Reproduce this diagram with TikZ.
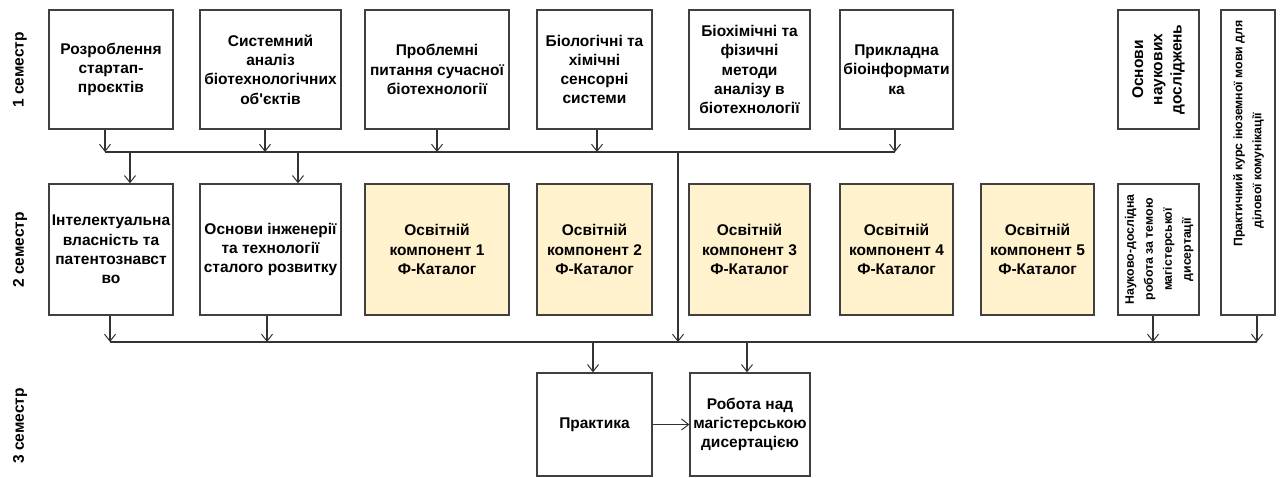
\documentclass[tikz,border=0pt]{standalone}
\usepackage{fontspec}
\setmainfont{Liberation Sans}
\usetikzlibrary{arrows.meta,calc}
\definecolor{bord}{HTML}{404040}
\definecolor{lin}{HTML}{333333}
\definecolor{yel}{HTML}{FFF2CC}
\newcommand{\mainf}{\fontsize{15.5}{19.3}\selectfont\bfseries}
\newcommand{\smallf}{\fontsize{12.3}{19}\selectfont\bfseries}
\newcommand{\rot}[1]{\rotatebox{90}{\begin{tabular}{@{}c@{}}#1\end{tabular}}}
\begin{document}
\begin{tikzpicture}[x=1pt,y=-1pt,
  box/.style={draw=bord,line width=1.3pt,fill=white,inner sep=0pt,align=center,font=\mainf},
  ybox/.style={box,fill=yel},
  lne/.style={draw=lin,line width=1.1pt},
  arr/.style={lne,-{Straight Barb[length=7pt,width=11pt,line width=1pt]}},
  sem/.style={inner sep=0pt,font=\mainf}]
\useasboundingbox (0,0) rectangle (1282,478);
% semester labels
\node[sem] (s1) at (20,70) {\rotatebox{90}{1 семестр}};
\node[sem] (s2) at (20,250) {\rotatebox{90}{2 семестр}};
\node[sem] (s3) at (20,426) {\rotatebox{90}{3 семестр}};
% row 1
\node[box,minimum width=124pt,minimum height=119pt] (a1) at (111,69.5) {Розроблення\\стартап-\\проєктів};
\node[box,minimum width=141pt,minimum height=119pt] (a2) at (270.5,69.5) {Системний\\аналіз\\біотехнологічних\\об\textquotesingle єктів};
\node[box,minimum width=144pt,minimum height=119pt] (a3) at (437,69.5) {Проблемні\\питання сучасної\\біотехнології};
\node[box,minimum width=115pt,minimum height=119pt] (a4) at (594.5,69.5) {Біологічні та\\хімічні\\сенсорні\\системи};
\node[box,minimum width=121pt,minimum height=119pt] (a5) at (749.5,69.5) {Біохімічні та\\фізичні\\методи\\аналізу в\\біотехнології};
\node[box,minimum width=113pt,minimum height=119pt] (a6) at (896.5,69.5) {Прикладна\\біоінформати\\ка};
\node[box,minimum width=81pt,minimum height=119pt] (a7) at (1158.5,69.5) {\rot{Основи\\наукових\\досліджень}};
\node[box,minimum width=54pt,minimum height=305pt,font=\smallf] (a8) at (1248,162.5) {\rotatebox{90}{\hspace*{58pt}\begin{tabular}{@{}l@{}}Практичний курс іноземної мови для\\\hspace*{18pt}ділової комунікації\end{tabular}}};
% row 2
\node[box,minimum width=124pt,minimum height=131pt] (b1) at (111,249.5) {Інтелектуальна\\власність та\\патентознавст\\во};
\node[box,minimum width=141pt,minimum height=131pt] (b2) at (270.5,249.5) {Основи інженерії\\та технології\\сталого розвитку};
\node[ybox,minimum width=144pt,minimum height=131pt] (b3) at (437,249.5) {Освітній\\компонент 1\\Ф-Каталог};
\node[ybox,minimum width=115pt,minimum height=131pt] (b4) at (594.5,249.5) {Освітній\\компонент 2\\Ф-Каталог};
\node[ybox,minimum width=121pt,minimum height=131pt] (b5) at (749.5,249.5) {Освітній\\компонент 3\\Ф-Каталог};
\node[ybox,minimum width=113pt,minimum height=131pt] (b6) at (896.5,249.5) {Освітній\\компонент 4\\Ф-Каталог};
\node[ybox,minimum width=113pt,minimum height=131pt] (b7) at (1037.5,249.5) {Освітній\\компонент 5\\Ф-Каталог};
\node[box,minimum width=81pt,minimum height=131pt,font=\smallf] (b8) at (1158.5,249.5) {\rot{Науково-дослідна\\робота за темою\\магістерської\\дисертації}};
% row 3
\node[box,minimum width=115pt,minimum height=103pt] (c1) at (594.5,424.5) {Практика};
\node[box,minimum width=120pt,minimum height=103pt] (c2) at (750,424.5) {Робота над\\магістерською\\дисертацією};
% bus 1
\coordinate (u1) at (105,152);
\coordinate (u2) at (265,152);
\coordinate (u3) at (437,152);
\coordinate (u4) at (597,152);
\coordinate (u6) at (895,152);
\coordinate (d1) at (130,152);
\coordinate (d2) at (298,152);
\coordinate (j1) at (678,152);
% bus 2
\coordinate (v1) at (110,342);
\coordinate (v2) at (267,342);
\coordinate (j2) at (678,342);
\coordinate (v8) at (1153,342);
\coordinate (v9) at (1257,342);
\coordinate (w1) at (593,342);
\coordinate (w2) at (747,342);
\draw[lne] (u1) -- (u6);
\draw[arr] (a1.south -| u1) -- (u1);
\draw[arr] (a2.south -| u2) -- (u2);
\draw[arr] (a3.south -| u3) -- (u3);
\draw[arr] (a4.south -| u4) -- (u4);
\draw[arr] (a6.south -| u6) -- (u6);
\draw[arr] (d1) -- (d1 |- b1.north);
\draw[arr] (d2) -- (d2 |- b2.north);
\draw[arr] (j1) -- (j2);
\draw[lne] (v1) -- (v9);
\draw[arr] (b1.south -| v1) -- (v1);
\draw[arr] (b2.south -| v2) -- (v2);
\draw[arr] (b8.south -| v8) -- (v8);
\draw[arr] (a8.south -| v9) -- (v9);
\draw[arr] (w1) -- (w1 |- c1.north);
\draw[arr] (w2) -- (w2 |- c2.north);
\draw[arr] (c1.east) -- (c2.west);
\end{tikzpicture}
\end{document}
